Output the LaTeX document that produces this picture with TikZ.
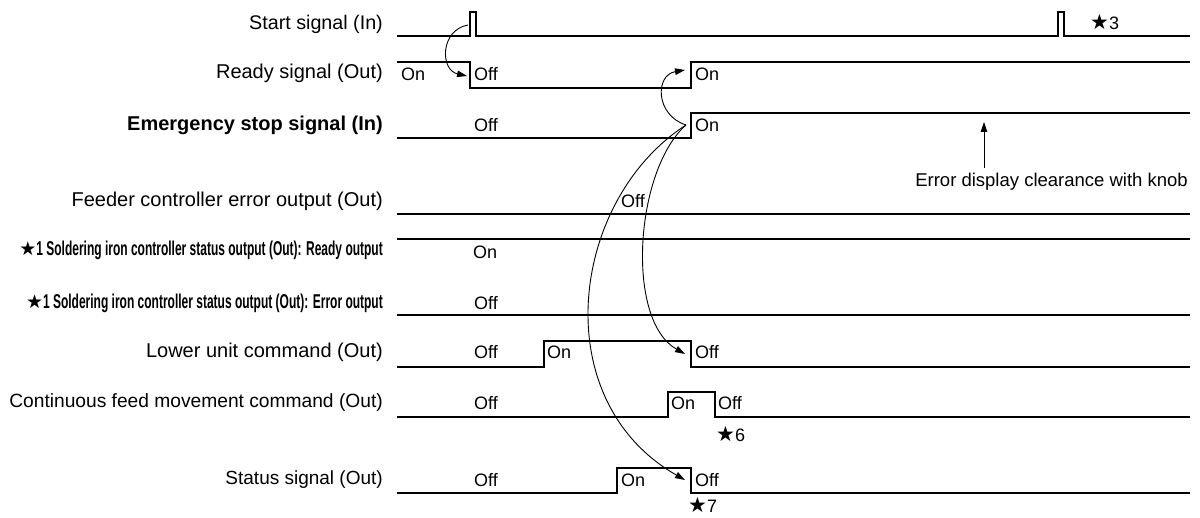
\documentclass[tikz,border=0pt]{standalone}
\usepackage{fontspec}
\setmainfont{Liberation Sans}
\newfontfamily\condf[FakeStretch=0.60]{Liberation Sans}
\newfontfamily\symf{DejaVu Sans}
\usetikzlibrary{arrows.meta}
\newcommand{\mystar}{{\symf\fontsize{19}{19}\selectfont ★}}
\newcommand{\bigstar}{{\symf\fontsize{21}{21}\selectfont ★}}
\newcommand{\fs}[1]{\fontsize{#1}{#1}\selectfont}
\begin{document}
\begin{tikzpicture}[x=1pt,y=-1pt,
  sig/.style={line width=2pt, line join=miter},
  lbl/.style={anchor=east, inner sep=0pt, font=\fs{20}},
  clbl/.style={anchor=east, inner sep=0pt, font=\fs{20}},
  st/.style={anchor=west, inner sep=0pt, font=\fs{18}},
  cur/.style={-{Triangle[length=10pt,width=6.5pt]}, line width=0.9pt}]
\useasboundingbox (0,0) rectangle (1200,518);

% signal labels
\node[lbl,font=\fs{19.7}] (l1) at (383,24) {Start signal (In)};
\node[lbl] (l2) at (383,73) {Ready signal (Out)};
\node[lbl,font=\fs{20}\bfseries] (l3) at (383,125) {Emergency stop signal (In)};
\node[lbl] (l4) at (383,201) {Feeder controller error output (Out)};
\node[clbl] (l5) at (383,250) {\mystar{\condf\bfseries 1 Soldering iron controller status output (Out): Ready output}};
\node[clbl] (l6) at (383,303) {\mystar{\condf\bfseries 1 Soldering iron controller status output (Out): Error output}};
\node[lbl] (l7) at (383,352) {Lower unit command (Out)};
\node[lbl,font=\fs{19.2}] (l8) at (383,403) {Continuous feed movement command (Out)};
\node[lbl,font=\fs{19}] (l9) at (383,480) {Status signal (Out)};

% waveforms
\draw[sig] (397,36) -- (470,36) -- (470,12) -- (476,12) -- (476,36) -- (1058,36) -- (1058,12) -- (1064,12) -- (1064,36) -- (1190,36);
\draw[sig] (397,62) -- (470,62) -- (470,88) -- (691,88) -- (691,62) -- (1190,62);
\draw[sig] (397,138) -- (691,138) -- (691,113) -- (1190,113);
\draw[sig] (397,214) -- (1190,214);
\draw[sig] (397,239) -- (1190,239);
\draw[sig] (397,315) -- (1190,315);
\draw[sig] (397,367) -- (544,367) -- (544,341) -- (691,341) -- (691,367) -- (1190,367);
\draw[sig] (397,417) -- (668,417) -- (668,392) -- (715,392) -- (715,417) -- (1190,417);
\draw[sig] (397,493) -- (617,493) -- (617,468) -- (691,468) -- (691,493) -- (1190,493);

% state labels
\node[st] (s2a) at (401,74) {On};
\node[st] (s2b) at (474,74) {Off};
\node[st] (s2c) at (695,74) {On};
\node[st] (s3a) at (474,125) {Off};
\node[st] (s3b) at (695,125) {On};
\node[st] (s4a) at (621,201) {Off};
\node[st] (s5a) at (473,252) {On};
\node[st] (s6a) at (474,303) {Off};
\node[st] (s7a) at (474,352) {Off};
\node[st] (s7b) at (547,352) {On};
\node[st] (s7c) at (695,352) {Off};
\node[st] (s8a) at (474,403) {Off};
\node[st] (s8b) at (671,403) {On};
\node[st] (s8c) at (718,403) {Off};
\node[st] (s9a) at (474,480) {Off};
\node[st] (s9b) at (621,480) {On};
\node[st] (s9c) at (695,480) {Off};

\node[st] (n3) at (1090,22) {\bigstar3};
\node[st] (n6) at (716,434) {\bigstar6};
\node[st] (n7) at (688,505) {\bigstar7};

% causal arrows
\coordinate (a1) at (468,25);
\coordinate (b1) at (467,76);
\coordinate (e0) at (686,125);
\coordinate (r1) at (685,70);
\coordinate (lo) at (685,354);
\coordinate (so) at (685,480);
\draw[cur] (a1) .. controls (440,30) and (440,70) .. (b1);
\draw[cur] (e0) .. controls (655,115) and (655,75) .. (r1);
\draw[cur] (e0) .. controls (635,170) and (625,320) .. (lo);
\draw[cur] (e0) .. controls (570,200) and (545,400) .. (so);

% error display clearance
\node[anchor=east, inner sep=0pt, font=\fs{18.5}] (ed) at (1188,182) {Error display clearance with knob};
\coordinate (edt) at (984,122);
\draw[cur] (984,168) -- (edt);
\end{tikzpicture}
\end{document}
